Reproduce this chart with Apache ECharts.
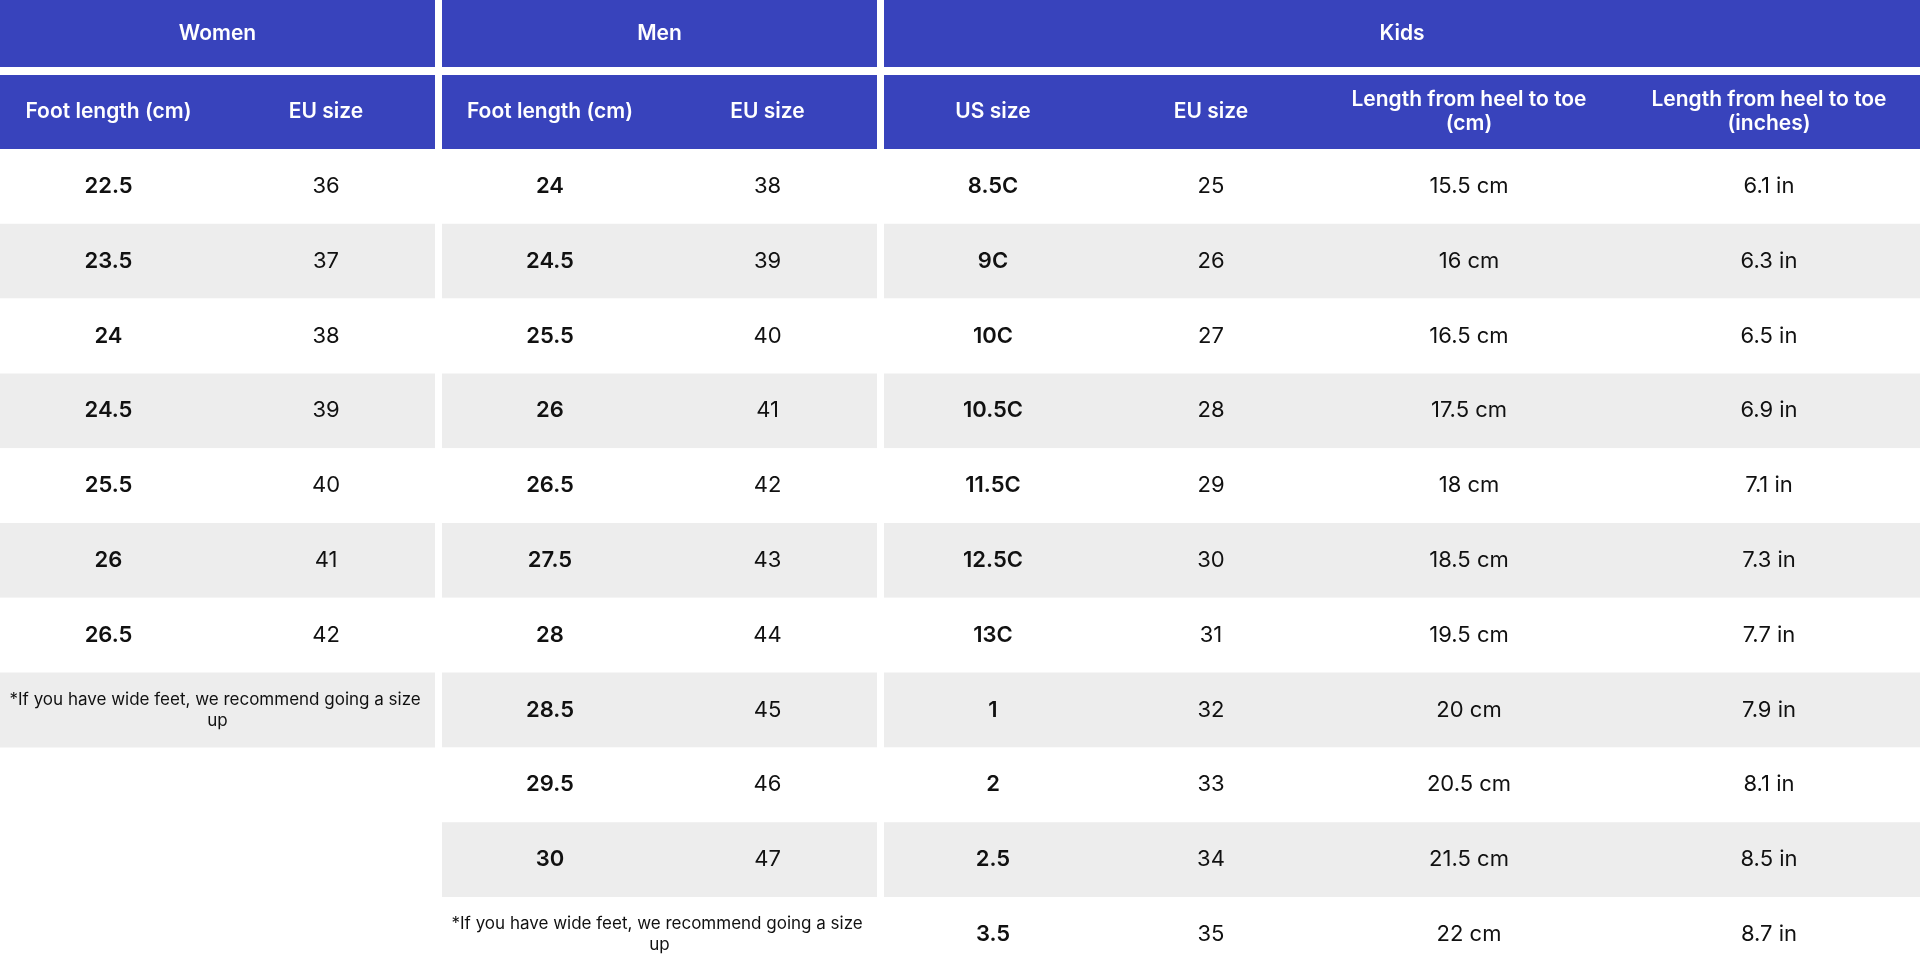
<!DOCTYPE html>
<html><head><meta charset="utf-8">
<script src="https://cdn.jsdelivr.net/npm/echarts@6/dist/echarts.min.js"></script>
<style>html,body{margin:0;padding:0;background:#fff}#c{width:1920px;height:972px}</style>
</head><body><div id="c"></div>
<script>
const groups = ['Women', 'Men', 'Kids'];
const womenHeaders = ['Foot length (cm)', 'EU size'];
const menHeaders = ['Foot length (cm)', 'EU size'];
const kidsHeaders = ['US size', 'EU size', 'Length from heel to toe\n(cm)', 'Length from heel to toe\n(inches)'];
const womenFoot = ['22.5','23.5','24','24.5','25.5','26','26.5'];
const womenEU = ['36','37','38','39','40','41','42'];
const menFoot = ['24','24.5','25.5','26','26.5','27.5','28','28.5','29.5','30'];
const menEU = ['38','39','40','41','42','43','44','45','46','47'];
const kidsUS = ['8.5C','9C','10C','10.5C','11.5C','12.5C','13C','1','2','2.5','3.5'];
const kidsEU = ['25','26','27','28','29','30','31','32','33','34','35'];
const kidsCm = ['15.5 cm','16 cm','16.5 cm','17.5 cm','18 cm','18.5 cm','19.5 cm','20 cm','20.5 cm','21.5 cm','22 cm'];
const kidsIn = ['6.1 in','6.3 in','6.5 in','6.9 in','7.1 in','7.3 in','7.7 in','7.9 in','8.1 in','8.5 in','8.7 in'];
const note = '*If you have wide feet, we recommend going a size up';

// layout
const HEAD = '#3843bc', GREY = '#ededed';
const gX = [[0,435],[442,877],[884,1920]];
const cols = [
  {g:0,x0:0,x1:217,head:womenHeaders[0],vals:womenFoot,bold:true},
  {g:0,x0:217,x1:435,head:womenHeaders[1],vals:womenEU,bold:false},
  {g:1,x0:442,x1:658,head:menHeaders[0],vals:menFoot,bold:true},
  {g:1,x0:658,x1:877,head:menHeaders[1],vals:menEU,bold:false},
  {g:2,x0:884,x1:1102,head:kidsHeaders[0],vals:kidsUS,bold:true},
  {g:2,x0:1102,x1:1320,head:kidsHeaders[1],vals:kidsEU,bold:false},
  {g:2,x0:1320,x1:1618,head:kidsHeaders[2],vals:kidsCm,bold:false},
  {g:2,x0:1618,x1:1920,head:kidsHeaders[3],vals:kidsIn,bold:false}
];
const H1 = [0,67], H2 = [75,149], R0 = 149, RH = 74.8;
const cells = [];
groups.forEach((g,i)=>cells.push({x0:gX[i][0],x1:gX[i][1],y0:H1[0],y1:H1[1],bg:HEAD,text:g,color:'#fff',bold:true,size:21}));
cols.forEach(c=>cells.push({x0:c.x0,x1:c.x1,y0:H2[0],y1:H2[1],bg:HEAD,text:c.head,color:'#fff',bold:true,size:21,pad:true}));
// row backgrounds per group
const rowCount = [womenFoot.length+1, menFoot.length+1, kidsUS.length];
for (let gi=0;gi<3;gi++) for (let r=0;r<rowCount[gi];r++)
  cells.push({x0:gX[gi][0],x1:gX[gi][1],y0:R0+r*RH,y1:R0+(r+1)*RH,bg:r%2?GREY:'#fff',text:'',size:22});
cols.forEach(c=>c.vals.forEach((v,r)=>cells.push({x0:c.x0,x1:c.x1,y0:R0+r*RH,y1:R0+(r+1)*RH,bg:null,text:v,color:'#111',bold:c.bold,size:22})));
[[0,womenFoot.length],[1,menFoot.length]].forEach(([gi,r])=>cells.push({x0:gX[gi][0],x1:gX[gi][1],y0:R0+r*RH,y1:R0+(r+1)*RH,bg:null,text:note,color:'#111',bold:false,size:17,wrap:true}));

const chart = echarts.init(document.getElementById('c'));
chart.setOption({
  animation:false,
  grid:{left:0,right:0,top:0,bottom:0},
  xAxis:{type:'value',min:0,max:1920,show:false},
  yAxis:{type:'value',min:0,max:972,inverse:true,show:false},
  series:[{
    type:'custom', coordinateSystem:'cartesian2d',
    data: cells.map((c,i)=>[c.x0,c.y0,c.x1,c.y1,i]),
    renderItem:(params,api)=>{
      const c = cells[api.value(4)];
      const p0 = api.coord([c.x0,c.y0]), p1 = api.coord([c.x1,c.y1]);
      const ch = [];
      if (c.bg) ch.push({type:'rect',shape:{x:p0[0],y:p0[1],width:p1[0]-p0[0],height:p1[1]-p0[1]},style:{fill:c.bg}});
      if (c.text) ch.push({type:'text',style:{x:(p0[0]+p1[0])/2,y:(p0[1]+p1[1])/2,text:c.text,
        fill:c.color,font:(c.bold?'600 ':'400 ')+c.size+'px Inter, "Noto Sans", sans-serif',
        align:'center',verticalAlign:'middle',lineHeight:c.wrap?21:24,
        width:c.wrap?(p1[0]-p0[0]-8):undefined,overflow:c.wrap?'break':undefined}});
      return {type:'group',children:ch};
    }
  }]
});
</script></body></html>
